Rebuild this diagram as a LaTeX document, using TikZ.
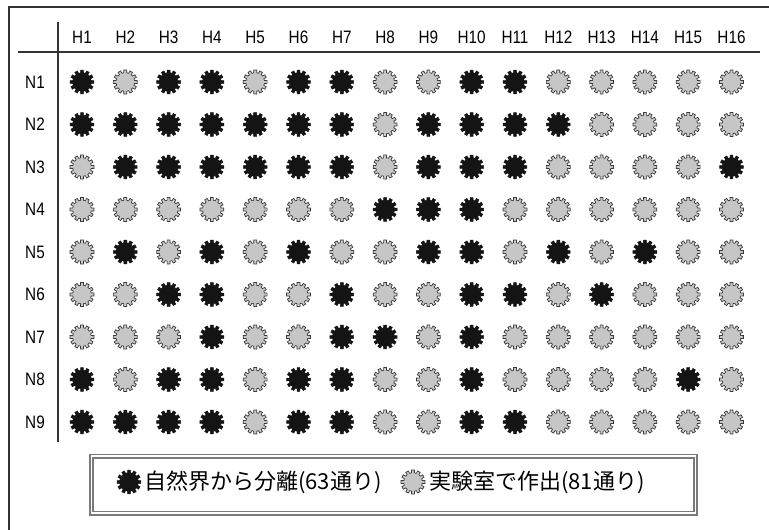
\documentclass[tikz,border=0pt]{standalone}
\usepackage{fontspec}
\setmainfont{Liberation Sans}
\newfontfamily\labelfont[FakeStretch=0.85]{Liberation Sans}
\newfontfamily\jpfont{Noto Sans CJK JP}
\usetikzlibrary{positioning}

\definecolor{gearink}{HTML}{141414}
\definecolor{gearpale}{HTML}{C6C6C6}
\definecolor{gearedge}{HTML}{3A3A3A}
\definecolor{ruleink}{HTML}{333333}
\definecolor{boxline}{HTML}{7A7A7A}

\begin{document}
\begin{tikzpicture}[x=1pt, y=-1pt,
    gear/.pic={\path[pic actions] (-7:12pt) \foreach \a in {0,30,...,330}{ -- ({\a-7}:12pt) -- ({\a+7}:12pt) -- ({\a+9}:9.3pt) -- ({\a+21}:9.3pt)} -- cycle;},
    isolated/.style={fill=gearink, draw=gearink, line width=0.5pt},
    synthetic/.style={fill=gearpale, draw=gearedge, line width=0.7pt},
    colhead/.style={font=\labelfont\fontsize{18}{20}\selectfont, inner sep=0pt},
    rowhead/.style={colhead},
    axisline/.style={draw=ruleink, line width=1.6pt},
    legendbox/.style={draw=boxline, double=white, double distance=1.4pt, line width=1.8pt, minimum width=604, minimum height=57, inner sep=0pt},
    legendtext/.style={font=\jpfont\fontsize{22}{24}\selectfont, inner sep=0pt, anchor=west}
]
\useasboundingbox (0,0) rectangle (769,530);

% Frame and axes
\draw[axisline] (9,532) -- (9,7) -- (771,7);
\draw[axisline] (18,52) -- (760,52);
\draw[axisline] (58,22) -- (58,442);

% Column and row heads
\foreach \c in {1,...,16}
    \node[colhead] (h\c) at ({82+(\c-1)*43.3},37) {H\c};
\foreach \r in {1,...,9}
    \node[rowhead] (n\r) at (35,{82+(\r-1)*42.5}) {N\r};

% 1 = isolated from nature, 0 = made in the lab
\foreach \r/\row in {
    1/{1,0,1,1,0,1,1,0,0,1,1,0,0,0,0,0},
    2/{1,1,1,1,1,1,1,0,1,1,1,1,0,0,0,0},
    3/{0,1,1,1,1,1,1,0,1,1,1,0,0,0,0,1},
    4/{0,0,0,0,0,0,0,1,1,1,0,0,0,0,0,0},
    5/{0,1,0,1,0,1,0,0,1,1,0,1,0,1,0,0},
    6/{0,0,1,1,0,0,1,0,0,1,1,0,1,0,0,0},
    7/{0,0,0,1,0,0,1,1,0,1,0,0,0,0,0,0},
    8/{1,0,1,1,0,1,1,0,0,1,0,0,0,0,1,0},
    9/{1,1,1,1,0,1,1,0,0,1,1,0,0,0,0,0}}
    \foreach \v [count=\c] in \row {
        \ifnum\v=1
            \pic[isolated] at (h\c |- n\r) {gear};
        \else
            \pic[synthetic] at (h\c |- n\r) {gear};
        \fi
    };

% Legend
\node[legendbox] (legend) at (393.5,484.5) {};
\pic[isolated] at (129,482) {gear};
\node[legendtext] (wildtext) at (144,482) {自然界から分離(63通り)};
\pic[synthetic] at (413,482) {gear};
\node[legendtext] (labtext) at (429,482) {実験室で作出(81通り)};

\end{tikzpicture}
\end{document}
